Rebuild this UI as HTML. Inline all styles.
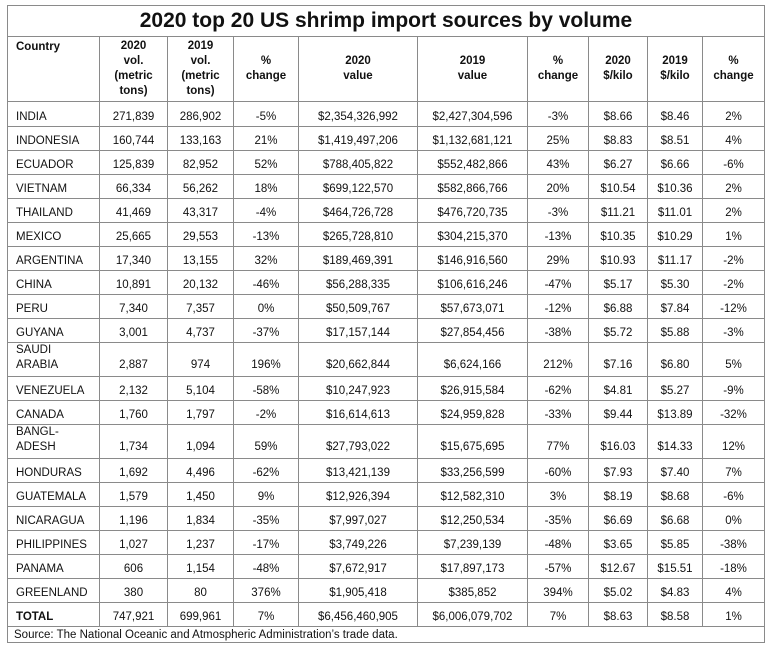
<!DOCTYPE html>
<html><head><meta charset="utf-8">
<style>
html,body{margin:0;padding:0;background:#fff;width:768px;height:649px;overflow:hidden}
table{position:absolute;left:7px;top:5px;border-collapse:collapse;table-layout:fixed;font-family:"Liberation Sans",sans-serif;color:#111;font-size:11.5px}
td{border:1px solid #8a8a8a;padding:0;text-align:center;vertical-align:bottom;padding-bottom:3px;white-space:nowrap;overflow:hidden}
td.c{text-align:left;padding-left:8px}
tr.h td{vertical-align:middle;font-weight:bold;line-height:15px;padding-bottom:0}
tr.h td.c{vertical-align:top;padding-top:3px}
tr.r td{height:20px}
tr.d td{height:29px;line-height:15px}
.title{font-size:21px;font-weight:bold;height:30px;vertical-align:middle;padding:0;letter-spacing:0}
.src{text-align:left;padding-left:6px;height:15px;font-size:11.5px;vertical-align:middle;padding-bottom:0}
</style></head><body>
<table>
<colgroup><col style="width:92px"><col style="width:68px"><col style="width:66px"><col style="width:65px"><col style="width:119px"><col style="width:110px"><col style="width:61px"><col style="width:59px"><col style="width:55px"><col style="width:62px"></colgroup>
<tr><td colspan="10" class="title">2020 top 20 US shrimp import sources by volume</td></tr>
<tr class="h" style="height:65px">
<td class="c">Country</td><td>2020<br>vol.<br>(metric<br>tons)</td><td>2019<br>vol.<br>(metric<br>tons)</td><td>%<br>change</td><td>2020<br>value</td><td>2019<br>value</td><td>%<br>change</td><td>2020<br>$/kilo</td><td>2019<br>$/kilo</td><td>%<br>change</td></tr>
<tr class="r" style="height:25px"><td class="c">INDIA</td><td>271,839</td><td>286,902</td><td>-5%</td><td>$2,354,326,992</td><td>$2,427,304,596</td><td>-3%</td><td>$8.66</td><td>$8.46</td><td>2%</td></tr>
<tr class="r"><td class="c">INDONESIA</td><td>160,744</td><td>133,163</td><td>21%</td><td>$1,419,497,206</td><td>$1,132,681,121</td><td>25%</td><td>$8.83</td><td>$8.51</td><td>4%</td></tr>
<tr class="r"><td class="c">ECUADOR</td><td>125,839</td><td>82,952</td><td>52%</td><td>$788,405,822</td><td>$552,482,866</td><td>43%</td><td>$6.27</td><td>$6.66</td><td>-6%</td></tr>
<tr class="r"><td class="c">VIETNAM</td><td>66,334</td><td>56,262</td><td>18%</td><td>$699,122,570</td><td>$582,866,766</td><td>20%</td><td>$10.54</td><td>$10.36</td><td>2%</td></tr>
<tr class="r"><td class="c">THAILAND</td><td>41,469</td><td>43,317</td><td>-4%</td><td>$464,726,728</td><td>$476,720,735</td><td>-3%</td><td>$11.21</td><td>$11.01</td><td>2%</td></tr>
<tr class="r"><td class="c">MEXICO</td><td>25,665</td><td>29,553</td><td>-13%</td><td>$265,728,810</td><td>$304,215,370</td><td>-13%</td><td>$10.35</td><td>$10.29</td><td>1%</td></tr>
<tr class="r"><td class="c">ARGENTINA</td><td>17,340</td><td>13,155</td><td>32%</td><td>$189,469,391</td><td>$146,916,560</td><td>29%</td><td>$10.93</td><td>$11.17</td><td>-2%</td></tr>
<tr class="r"><td class="c">CHINA</td><td>10,891</td><td>20,132</td><td>-46%</td><td>$56,288,335</td><td>$106,616,246</td><td>-47%</td><td>$5.17</td><td>$5.30</td><td>-2%</td></tr>
<tr class="r"><td class="c">PERU</td><td>7,340</td><td>7,357</td><td>0%</td><td>$50,509,767</td><td>$57,673,071</td><td>-12%</td><td>$6.88</td><td>$7.84</td><td>-12%</td></tr>
<tr class="r"><td class="c">GUYANA</td><td>3,001</td><td>4,737</td><td>-37%</td><td>$17,157,144</td><td>$27,854,456</td><td>-38%</td><td>$5.72</td><td>$5.88</td><td>-3%</td></tr>
<tr class="d"><td class="c">SAUDI<br>ARABIA</td><td>2,887</td><td>974</td><td>196%</td><td>$20,662,844</td><td>$6,624,166</td><td>212%</td><td>$7.16</td><td>$6.80</td><td>5%</td></tr>
<tr class="r"><td class="c">VENEZUELA</td><td>2,132</td><td>5,104</td><td>-58%</td><td>$10,247,923</td><td>$26,915,584</td><td>-62%</td><td>$4.81</td><td>$5.27</td><td>-9%</td></tr>
<tr class="r"><td class="c">CANADA</td><td>1,760</td><td>1,797</td><td>-2%</td><td>$16,614,613</td><td>$24,959,828</td><td>-33%</td><td>$9.44</td><td>$13.89</td><td>-32%</td></tr>
<tr class="d"><td class="c">BANGL-<br>ADESH</td><td>1,734</td><td>1,094</td><td>59%</td><td>$27,793,022</td><td>$15,675,695</td><td>77%</td><td>$16.03</td><td>$14.33</td><td>12%</td></tr>
<tr class="r"><td class="c">HONDURAS</td><td>1,692</td><td>4,496</td><td>-62%</td><td>$13,421,139</td><td>$33,256,599</td><td>-60%</td><td>$7.93</td><td>$7.40</td><td>7%</td></tr>
<tr class="r"><td class="c">GUATEMALA</td><td>1,579</td><td>1,450</td><td>9%</td><td>$12,926,394</td><td>$12,582,310</td><td>3%</td><td>$8.19</td><td>$8.68</td><td>-6%</td></tr>
<tr class="r"><td class="c">NICARAGUA</td><td>1,196</td><td>1,834</td><td>-35%</td><td>$7,997,027</td><td>$12,250,534</td><td>-35%</td><td>$6.69</td><td>$6.68</td><td>0%</td></tr>
<tr class="r"><td class="c">PHILIPPINES</td><td>1,027</td><td>1,237</td><td>-17%</td><td>$3,749,226</td><td>$7,239,139</td><td>-48%</td><td>$3.65</td><td>$5.85</td><td>-38%</td></tr>
<tr class="r"><td class="c">PANAMA</td><td>606</td><td>1,154</td><td>-48%</td><td>$7,672,917</td><td>$17,897,173</td><td>-57%</td><td>$12.67</td><td>$15.51</td><td>-18%</td></tr>
<tr class="r"><td class="c">GREENLAND</td><td>380</td><td>80</td><td>376%</td><td>$1,905,418</td><td>$385,852</td><td>394%</td><td>$5.02</td><td>$4.83</td><td>4%</td></tr>
<tr class="r"><td class="c" style="font-weight:bold">TOTAL</td><td>747,921</td><td>699,961</td><td>7%</td><td>$6,456,460,905</td><td>$6,006,079,702</td><td>7%</td><td>$8.63</td><td>$8.58</td><td>1%</td></tr>
<tr><td colspan="10" class="src">Source: The National Oceanic and Atmospheric Administration’s trade data.</td></tr>
</table>
</body></html>
